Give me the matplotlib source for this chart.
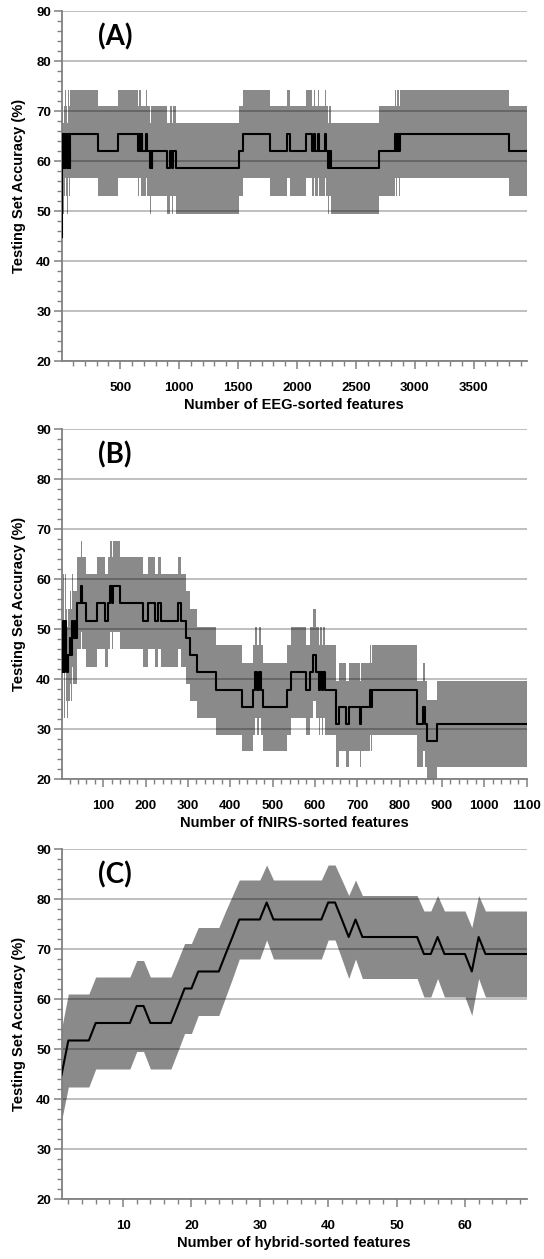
import matplotlib
matplotlib.use('Agg')
import matplotlib.pyplot as plt
from matplotlib.ticker import MultipleLocator

# ---------------- data ----------------
# accuracy levels (%) and the half-width (%) of the grey band seen at each level
acc_levels = [27.6, 31.0, 34.5, 37.9, 41.4, 44.8, 48.3, 51.7, 55.2, 58.6,
              62.1, 65.5, 69.0, 72.4, 75.9, 79.3]
band_half = [8.3, 8.6, 8.8, 9.0, 9.1, 9.2, 9.3, 9.3, 9.2, 9.1,
             9.0, 8.8, 8.6, 8.3, 7.9, 7.5]

# (A) EEG: start of each constant segment (number of features) and accuracy
eeg_start = [1, 2, 3, 5, 7, 9, 12, 16, 20, 25, 30, 34, 40, 44, 50, 55, 62, 66, 70, 74,
             308, 483, 653, 658, 664, 670, 676, 681, 687, 716, 727, 753, 757, 760,
             764, 767, 772, 894, 922, 937, 950, 971, 1511, 1540, 1772, 1919, 1942,
             2077, 2126, 2148, 2156, 2177, 2185, 2236, 2244, 2267, 2272, 2277, 2283,
             2288, 2700, 2833, 2840, 2848, 2855, 2862, 2870, 2878, 3804]
eeg_acc = [44.8, 48.3, 51.7, 55.2, 58.6, 62.1, 65.5, 58.6, 65.5, 62.1, 58.6, 65.5, 62.1,
           65.5, 58.6, 65.5, 58.6, 62.1, 58.6, 65.5,
           62.1, 65.5, 62.1, 65.5, 62.1, 65.5, 62.1, 65.5, 62.1, 65.5, 62.1, 58.6,
           62.1, 58.6, 62.1, 58.6, 62.1, 58.6, 62.1, 58.6, 62.1, 58.6, 62.1, 65.5,
           62.1, 65.5, 62.1, 65.5, 62.1, 65.5, 62.1, 65.5, 62.1, 65.5, 62.1, 58.6,
           62.1, 58.6, 62.1, 58.6, 62.1, 65.5, 62.1, 65.5, 62.1, 65.5, 62.1, 65.5, 62.1]
eeg_end = 3950

# (B) fNIRS
fnirs_start = [1, 2, 4, 6, 8, 10, 12, 14, 16, 20, 23, 26, 28, 32, 34, 37, 47, 50, 59,
               84, 104, 110, 116, 120, 123, 139, 194, 206, 222, 230, 236, 277, 283,
               295, 305, 322, 366, 427, 454, 458, 464, 467, 472, 478, 533, 543, 579,
               588, 596, 603, 610, 613, 616, 619, 624, 650, 656, 673, 681, 707, 709,
               730, 733, 736, 841, 856, 859, 864, 889]
fnirs_acc = [48.3, 41.4, 51.7, 44.8, 41.4, 51.7, 44.8, 41.4, 44.8, 48.3, 44.8, 51.7,
             48.3, 51.7, 48.3, 55.2, 58.6, 55.2, 51.7,
             55.2, 51.7, 55.2, 58.6, 55.2, 58.6, 55.2, 51.7, 55.2, 51.7, 55.2, 51.7,
             55.2, 51.7, 48.3, 44.8, 41.4, 37.9, 34.5, 37.9, 41.4, 37.9, 41.4, 37.9,
             34.5, 37.9, 41.4, 37.9, 41.4, 44.8, 41.4, 37.9, 41.4, 37.9, 41.4, 37.9,
             31.0, 34.5, 31.0, 34.5, 31.0, 34.5, 37.9, 34.5, 37.9, 31.0, 34.5, 31.0,
             27.6, 31.0]
fnirs_end = 1100

# (C) hybrid: one accuracy value per number of features (1..69)
hybrid_n = list(range(1, 70))
hybrid_acc = [44.8, 51.7, 51.7, 51.7, 51.7, 55.2, 55.2, 55.2, 55.2, 55.2,
              55.2, 58.6, 58.6, 55.2, 55.2, 55.2, 55.2, 58.6, 62.1, 62.1,
              65.5, 65.5, 65.5, 65.5, 69.0, 72.4, 75.9, 75.9, 75.9, 75.9,
              79.3, 75.9, 75.9, 75.9, 75.9, 75.9, 75.9, 75.9, 75.9, 79.3,
              79.3, 75.9, 72.4, 75.9, 72.4, 72.4, 72.4, 72.4, 72.4, 72.4,
              72.4, 72.4, 72.4, 69.0, 69.0, 72.4, 69.0, 69.0, 69.0, 69.0,
              65.5, 72.4, 69.0, 69.0, 69.0, 69.0, 69.0, 69.0, 69.0]

panel_letters = ['(A)', '(B)', '(C)']
x_labels = ['Number of EEG-sorted features', 'Number of fNIRS-sorted features',
            'Number of hybrid-sorted features']
y_label = 'Testing Set Accuracy (%)'

# ---------------- helpers ----------------
half_of = dict(zip(acc_levels, band_half))


def bounds(vals):
    lo = [v - half_of[v] for v in vals]
    hi = [v + half_of[v] for v in vals]
    return lo, hi


FONT = ['Liberation Sans', 'DejaVu Sans']
BAND = '#8a8a8a'
AXC = '#808080'

fig = plt.figure(figsize=(5.44, 12.59), dpi=100)
W, H = 544.0, 1259.0
left_px, right_px = 61.5, 526.5
tops = [11, 429, 849]
height_px = 350

axes = []
for top in tops:
    ax = fig.add_axes([left_px / W, 1 - (top + height_px) / H,
                       (right_px - left_px) / W, height_px / H])
    axes.append(ax)

# panel A
ax = axes[0]
xs = eeg_start + [eeg_end]
ys = eeg_acc + [eeg_acc[-1]]
lo, hi = bounds(ys)
ax.fill_between(xs, lo, hi, step='post', color=BAND, lw=0, zorder=1)
ax.plot(xs, ys, drawstyle='steps-post', color='black', lw=1.5, zorder=3)
ax.set_xlim(1, eeg_end)
ax.set_xticks(range(500, 3501, 500))
ax.xaxis.set_minor_locator(MultipleLocator(100))

# panel B
ax = axes[1]
xs = fnirs_start + [fnirs_end]
ys = fnirs_acc + [fnirs_acc[-1]]
lo, hi = bounds(ys)
ax.fill_between(xs, lo, hi, step='post', color=BAND, lw=0, zorder=1)
ax.plot(xs, ys, drawstyle='steps-post', color='black', lw=1.5, zorder=3)
ax.set_xlim(1, fnirs_end)
ax.set_xticks(range(100, 1101, 100))
ax.xaxis.set_minor_locator(MultipleLocator(20))

# panel C
ax = axes[2]
lo, hi = bounds(hybrid_acc)
ax.fill_between(hybrid_n, lo, hi, color=BAND, lw=0, zorder=1)
ax.plot(hybrid_n, hybrid_acc, color='black', lw=1.5, zorder=3)
ax.set_xlim(1, 69)
ax.set_xticks(range(10, 61, 10))
ax.xaxis.set_minor_locator(MultipleLocator(2))

for ax, letter, xl in zip(axes, panel_letters, x_labels):
    ax.set_ylim(20, 90)
    ax.set_yticks(range(20, 91, 10))
    ax.yaxis.set_minor_locator(MultipleLocator(2))
    ax.yaxis.grid(True, which='major', color='black', alpha=0.27, lw=1.3)
    for s in ['top', 'right']:
        ax.spines[s].set_visible(False)
    for s in ['left', 'bottom']:
        ax.spines[s].set_color(AXC)
        ax.spines[s].set_linewidth(1.3)
    ax.tick_params(axis='both', which='major', length=6, width=1.1, color=AXC,
                   direction='out')
    ax.tick_params(axis='both', which='minor', length=3.5, width=1.0, color=AXC,
                   direction='out')
    ax.tick_params(axis='x', which='major', pad=9)
    ax.tick_params(axis='y', which='major', pad=1.5)
    for lab in ax.get_xticklabels() + ax.get_yticklabels():
        lab.set_fontfamily(FONT)
        lab.set_fontweight('bold')
        lab.set_fontsize(9.5)
    ax.set_xlabel(xl, fontfamily=FONT, fontweight='bold', fontsize=10.5, labelpad=3)
    ax.set_ylabel(y_label, fontfamily=FONT, fontweight='bold', fontsize=10.5,
                  labelpad=7)
    ax.text(0.115, 0.925, letter, transform=ax.transAxes, ha='center', va='center',
            fontfamily=['Lato', 'DejaVu Sans'], fontweight='bold', fontsize=20)

fig.savefig('out.png', dpi=100)
